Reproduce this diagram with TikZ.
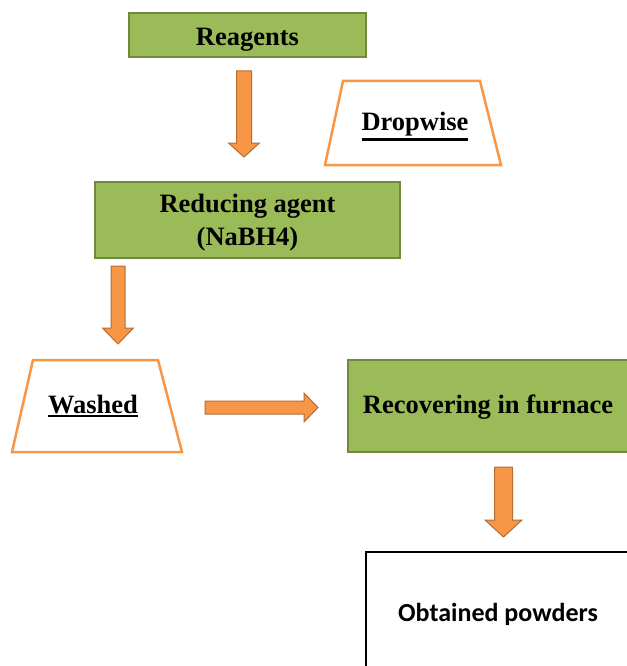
\documentclass[tikz,border=0pt]{standalone}
\usepackage{fontspec}
\setmainfont{Liberation Serif}
\newfontfamily\calfont{Carlito}
\definecolor{boxgreen}{HTML}{9BBB59}
\definecolor{boxgreenline}{HTML}{71893F}
\definecolor{arrorange}{HTML}{F79646}
\definecolor{arrline}{HTML}{B66D31}
\newcommand\thickul[1]{\vtop{\hbox{#1}\kern1.5pt\hrule height 2.4pt}}
\begin{document}
\begin{tikzpicture}[x=1pt,y=-1pt,
  greenbox/.style={draw=boxgreenline, line width=2pt, fill=boxgreen},
  trapbox/.style={draw=arrorange, line width=2.5pt, fill=white, line join=miter},
  blockarr/.style={draw=arrline, line width=1pt, fill=arrorange},
  lbl/.style={font=\fontsize{26.5}{33}\selectfont\bfseries, align=center, inner sep=0pt},
  sanslbl/.style={font=\calfont\fontsize{26}{30}\selectfont\bfseries, align=center, inner sep=0pt}]
\useasboundingbox (0,0) rectangle (626,666);
% boxes
\node[greenbox, minimum width=237pt, minimum height=44pt] (reag) at (247.5,35) {};
\node[lbl] (reagT) at (247.5,40) {Reagents};
\node[greenbox, minimum width=305pt, minimum height=76pt] (red) at (247.5,220) {};
\node[lbl] (redT) at (247.5,223) {Reducing agent\\(NaBH4)};
\node[greenbox, minimum width=280pt, minimum height=92pt] (rec) at (488,406) {};
\node[lbl] (recT) at (488,407) {Recovering in furnace};
\node[draw=black, line width=2pt, fill=white, minimum width=264pt, minimum height=118pt] (obt) at (498,611) {};
\node[sanslbl] (obtT) at (498,614) {Obtained powders};
% trapezia
\draw[trapbox] (343,81) -- (480,81) -- (501,165) -- (325,165) -- cycle;
\node[lbl, anchor=base] (drop) at (415,131) {\thickul{Dropwise}};
\draw[trapbox] (33,360) -- (158,360) -- (182,452) -- (12,452) -- cycle;
\node[lbl, anchor=base] (wash) at (93,413) {\thickul{Washed}};
% block arrows
\draw[blockarr] (236.5,71) -- (251.5,71) -- (251.5,143) -- (259.5,143) -- (244,157) -- (228.5,143) -- (236.5,143) -- cycle;
\draw[blockarr] (111,266) -- (125,266) -- (125,328) -- (133.5,328) -- (118,344) -- (102.5,328) -- (111,328) -- cycle;
\draw[blockarr] (205,401) -- (304,401) -- (304,393) -- (318,407.5) -- (304,422) -- (304,414) -- (205,414) -- cycle;
\draw[blockarr] (494.5,467) -- (512.5,467) -- (512.5,520) -- (522,520) -- (503.5,537) -- (485,520) -- (494.5,520) -- cycle;
\end{tikzpicture}
\end{document}
